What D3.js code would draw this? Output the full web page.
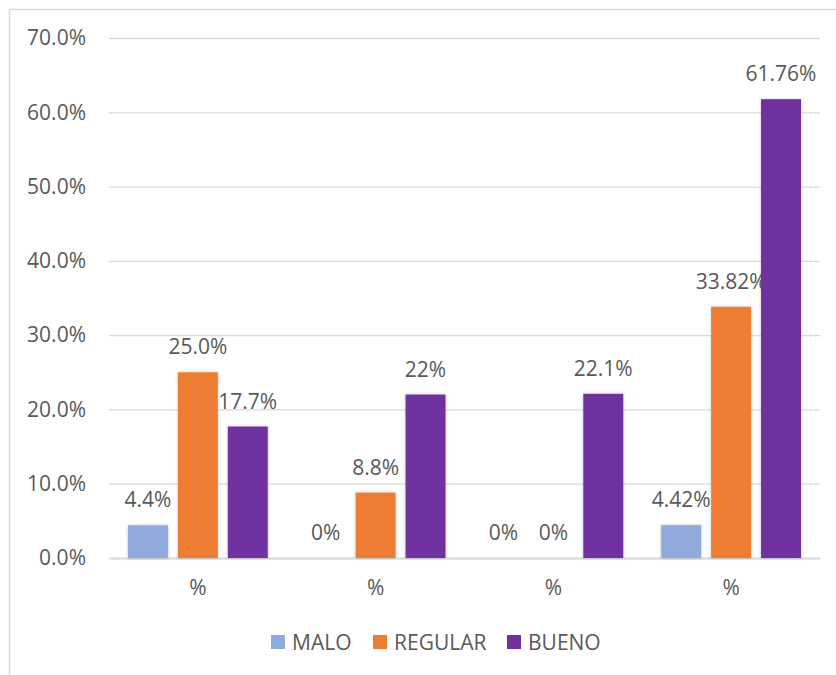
<!DOCTYPE html>
<html>
<head>
<meta charset="utf-8">
<script src="https://cdn.jsdelivr.net/npm/d3@7"></script>
<style>
  body { margin: 0; background: #fff; }
  svg text { font-family: "Open Sans", sans-serif; fill: #595959; }
</style>
</head>
<body>
<svg id="chart" width="836" height="675"></svg>
<script>
// data
var categories = ["%", "%", "%", "%"];
var series = ["MALO", "REGULAR", "BUENO"];
var malo = [4.4, 0, 0, 4.42];
var regular = [25.0, 8.8, 0, 33.82];
var bueno = [17.7, 22, 22.1, 61.76];
var maloLabels = ["4.4%", "0%", "0%", "4.42%"];
var regularLabels = ["25.0%", "8.8%", "0%", "33.82%"];
var buenoLabels = ["17.7%", "22%", "22.1%", "61.76%"];
var yTicks = [0, 10, 20, 30, 40, 50, 60, 70];
var colors = ["#8faadc", "#ed7d31", "#7030a0"];

var values = [malo, regular, bueno];
var labels = [maloLabels, regularLabels, buenoLabels];

var margin = {top: 38, left: 109, right: 16, bottom: 117};
var width = 836 - margin.left - margin.right;
var height = 675 - margin.top - margin.bottom;

var svg = d3.select("#chart");

// frame
svg.append("line").attr("x1", 9.5).attr("x2", 836).attr("y1", 9.5).attr("y2", 9.5)
  .attr("stroke", "#d9d9d9").attr("stroke-width", 1.5);
svg.append("line").attr("x1", 9.5).attr("x2", 9.5).attr("y1", 9.5).attr("y2", 675)
  .attr("stroke", "#d9d9d9").attr("stroke-width", 1.5);

var defs = svg.append("defs");
var f = defs.append("filter").attr("id", "shadow").attr("x", "-20%").attr("y", "-10%")
  .attr("width", "140%").attr("height", "120%");
f.append("feDropShadow").attr("dx", 0).attr("dy", 0).attr("stdDeviation", 1.5)
  .attr("flood-color", "#000").attr("flood-opacity", 0.25);

var g = svg.append("g").attr("transform", "translate(" + margin.left + "," + margin.top + ")");

var y = d3.scaleLinear().domain([0, 70]).range([height, 0]);
var x0 = d3.scaleBand().domain(d3.range(categories.length)).range([0, width]);
var x1 = d3.scaleBand().domain(series)
  .range([19, x0.bandwidth() - 19]).paddingInner(0.2);

// grid + y labels
var yAxis = d3.axisLeft(y).tickValues(yTicks)
  .tickSize(-width).tickPadding(23)
  .tickFormat(function (d) { return d.toFixed(1) + "%"; });

var ya = g.append("g").call(yAxis);
ya.select(".domain").remove();
ya.selectAll(".tick line").attr("stroke", "#d9d9d9").attr("stroke-width", 1.3);
ya.selectAll(".tick text").style("font-size", "21px").attr("fill", "#595959");

// category axis
var xa = g.append("g").attr("transform", "translate(0," + height + ")")
  .call(d3.axisBottom(x0).tickSize(0).tickPadding(22)
    .tickFormat(function (d) { return categories[d]; }));
xa.select(".domain").attr("stroke", "#d9d9d9").attr("stroke-width", 2);
xa.selectAll(".tick text").style("font-size", "21px").attr("fill", "#595959");

// bars
series.forEach(function (s, si) {
  var sg = g.append("g");
  sg.selectAll("rect").data(values[si]).enter().append("rect")
    .attr("x", function (d, i) { return x0(i) + x1(s); })
    .attr("y", function (d) { return y(d); })
    .attr("width", x1.bandwidth())
    .attr("height", function (d) { return height - y(d); })
    .attr("fill", colors[si])
    .attr("filter", function (d) { return d > 0 ? "url(#shadow)" : null; });

  sg.selectAll("text").data(values[si]).enter().append("text")
    .attr("x", function (d, i) { return x0(i) + x1(s) + x1.bandwidth() / 2; })
    .attr("y", function (d) { return y(d) - 18; })
    .attr("text-anchor", "middle")
    .style("font-size", "21px")
    .attr("fill", "#404040")
    .text(function (d, i) { return labels[si][i]; });
});

// legend
var legendX = [271, 373, 507];
var lg = svg.append("g");
series.forEach(function (s, si) {
  lg.append("rect").attr("x", legendX[si]).attr("y", 635).attr("width", 14).attr("height", 14)
    .attr("fill", colors[si]);
  lg.append("text").attr("x", legendX[si] + 21).attr("y", 649.5)
    .style("font-size", "21px").attr("fill", "#595959").text(s);
});
</script>
</body>
</html>
